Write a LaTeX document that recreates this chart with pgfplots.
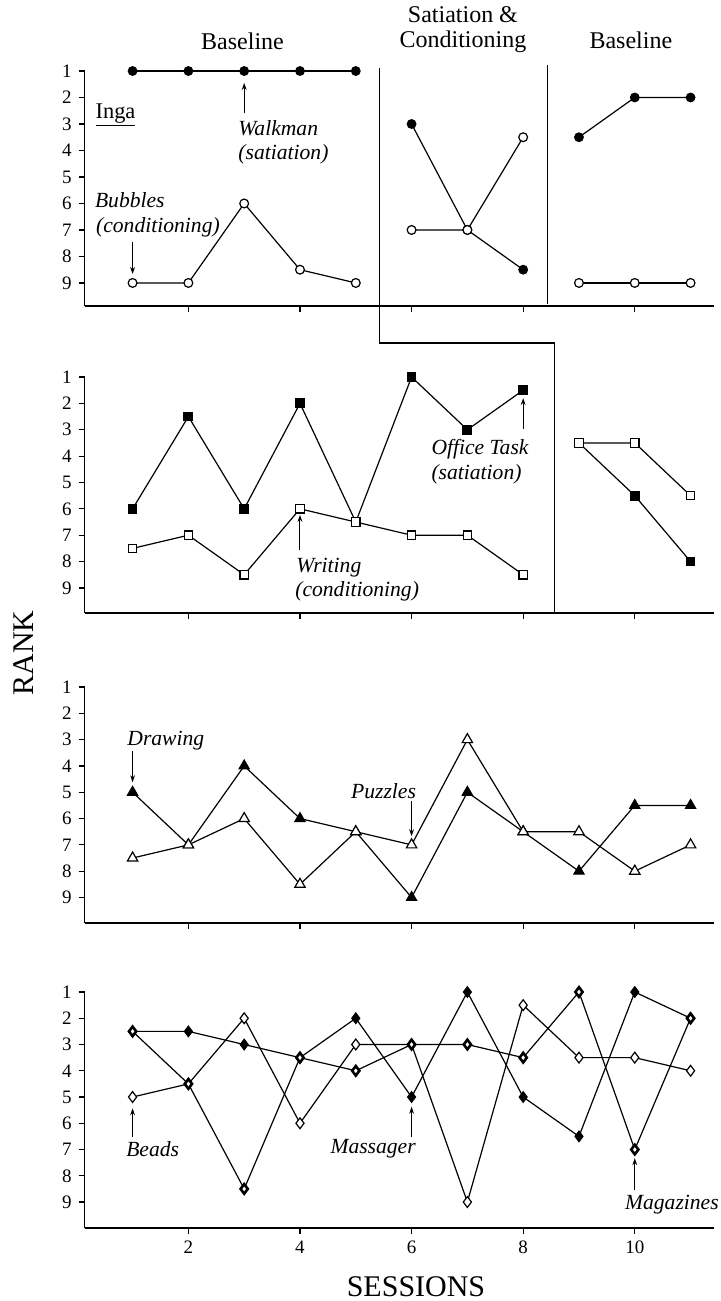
\documentclass[border=0pt]{standalone}
\usepackage{fontspec}
\setmainfont{Liberation Serif}
\usepackage{pgfplots}
\pgfplotsset{compat=1.18}
\usetikzlibrary{arrows.meta}
\tikzset{
  ln/.style={black, line width=0.6pt},
  arr/.style={-{Stealth[length=3.5pt,width=2.4pt]}, line width=0.5pt},
  ann/.style={inner sep=0pt, anchor=base west, font=\fontsize{10.8}{13}\selectfont\itshape},
  ttl/.style={inner sep=0pt, font=\fontsize{12}{14}\selectfont},
}
\pgfplotsset{
  panel/.style={
    scale only axis, width=314.7pt, height=118pt,
    xmin=0.14, xmax=11.42, ymin=1,
    y dir=reverse,
    axis x line=bottom, axis y line=left,
    axis line style={-, line width=0.8pt},
    xtick={2,4,6,8,10}, ytick={1,2,3,4,5,6,7,8,9},
    tick align=outside, major tick length=3pt,
    tick style={line width=0.6pt, black},
    ticklabel style={font=\fontsize{9.5}{10}\selectfont},
    /pgf/number format/assume math mode=true,
    clip=false, anchor=north west,
  },
  fc/.style={ln, mark=*, mark size=2.2pt, mark options={solid, fill=black, line width=0.5pt}},
  oc/.style={ln, mark=*, mark size=2.2pt, mark options={solid, fill=white, line width=0.6pt}},
  fs/.style={ln, mark=square*, mark size=2.2pt, mark options={solid, fill=black, line width=0.5pt}},
  os/.style={ln, mark=square*, mark size=2.1pt, mark options={solid, fill=white, line width=0.6pt}},
  ft/.style={ln, mark=triangle*, mark size=3pt, mark options={solid, fill=black, line width=0.5pt}},
  ot/.style={ln, mark=triangle*, mark size=3pt, mark options={solid, fill=white, line width=0.6pt}},
  fd/.style={ln, mark=diamond*, mark size=2.7pt, mark options={solid, fill=black, line width=0.5pt}},
  od/.style={ln, mark=diamond*, mark size=2.7pt, mark options={solid, fill=white, line width=0.6pt}},
  bd/.style={ln, mark=diamond*, mark size=2.4pt, mark options={solid, fill=white, line width=1.3pt}},
}
\begin{document}
\begin{tikzpicture}
\path[use as bounding box] (0,0) rectangle (360.5pt,-650.5pt);

% ---------- Panel 1 : circles ----------
\begin{axis}[panel, at={(42.3pt,-35.5pt)}, height=117.5pt, ymax=9.87, xticklabels={}]
\addplot[fc] coordinates {(1,1)(2,1)(3,1)(4,1)(5,1)};
\addplot[oc] coordinates {(1,9)(2,9)(3,6)(4,8.5)(5,9)};
\addplot[fc] coordinates {(6,3)(7,7)(8,8.5)};
\addplot[oc] coordinates {(6,7)(7,7)(8,3.5)};
\addplot[fc] coordinates {(9,3.5)(10,2)(11,2)};
\addplot[oc] coordinates {(9,9)(10,9)(11,9)};
\draw[ln] (axis cs:5.42,0.89) -- (axis cs:5.42,11.27);
\draw[ln] (axis cs:8.44,0.77) -- (axis cs:8.44,9.79);
\node[ttl] at (axis cs:2.97,-0.11) {Baseline};
\node[ttl] at (axis cs:6.92,-1.12) {Satiation \&};
\node[ttl] at (axis cs:6.92,-0.09) {Conditioning};
\node[ttl] at (axis cs:9.93,-0.17) {Baseline};
\node[inner sep=0pt, anchor=base west, font=\fontsize{11.2}{13}\selectfont] at (axis cs:0.33,2.78) {\underline{Inga}};
\node[ann] at (axis cs:2.89,3.42) {Walkman};
\node[ann] at (axis cs:2.89,4.33) {(satiation)};
\draw[arr] (axis cs:3,2.6) -- (axis cs:3,1.45);
\node[ann] at (axis cs:0.32,6.14) {Bubbles};
\node[ann] at (axis cs:0.34,7.09) {(conditioning)};
\draw[arr] (axis cs:1,7.47) -- (axis cs:1,8.66);
\end{axis}

% ---------- Panel 2 : squares ----------
\begin{axis}[panel, at={(42.3pt,-188.5pt)}, ymax=9.95, xticklabels={}]
\addplot[fs] coordinates {(1,6)(2,2.5)(3,6)(4,2)(5,6.5)(6,1)(7,3)(8,1.5)};
\addplot[os] coordinates {(1,7.5)(2,7)(3,8.5)(4,6)(5,6.5)(6,7)(7,7)(8,8.5)};
\addplot[fs] coordinates {(9,3.5)(10,5.5)(11,8)};
\addplot[os] coordinates {(9,3.5)(10,3.5)(11,5.5)};
\draw[ln] (axis cs:5.42,-0.29) -- (axis cs:8.56,-0.29) -- (axis cs:8.56,9.95);
\node[ann] at (axis cs:6.35,3.95) {Office Task};
\node[ann] at (axis cs:6.35,4.9) {(satiation)};
\draw[arr] (axis cs:8,2.97) -- (axis cs:8,1.8);
\node[ann] at (axis cs:3.93,8.41) {Writing};
\node[ann] at (axis cs:3.91,9.32) {(conditioning)};
\draw[arr] (axis cs:4,7.55) -- (axis cs:4,6.23);
\end{axis}

% ---------- Panel 3 : triangles ----------
\begin{axis}[panel, at={(42.3pt,-343.5pt)}, ymax=9.97, xticklabels={}]
\addplot[ft] coordinates {(1,5)(2,7)(3,4)(4,6)(5,6.5)(6,9)(7,5)(8,6.5)(9,8)(10,5.5)(11,5.5)};
\addplot[ot] coordinates {(1,7.5)(2,7)(3,6)(4,8.5)(5,6.5)(6,7)(7,3)(8,6.5)(9,6.5)(10,8)(11,7)};
\node[ann] at (axis cs:0.9,3.23) {Drawing};
\draw[arr] (axis cs:1,3.45) -- (axis cs:1,4.62);
\node[ann] at (axis cs:4.91,5.24) {Puzzles};
\draw[arr] (axis cs:6,5.34) -- (axis cs:6,6.67);
\end{axis}

% ---------- Panel 4 : diamonds ----------
\begin{axis}[panel, at={(42.3pt,-496pt)}, ymax=9.99]
\addplot[fd] coordinates {(1,2.5)(2,2.5)(3,3)(4,3.5)(5,2)(6,5)(7,1)(8,5)(9,6.5)(10,1)(11,2)};
\addplot[od] coordinates {(1,5)(2,4.5)(3,2)(4,6)(5,3)(6,3)(7,9)(8,1.5)(9,3.5)(10,3.5)(11,4)};
\addplot[bd] coordinates {(1,2.5)(2,4.5)(3,8.5)(4,3.5)(5,4)(6,3)(7,3)(8,3.5)(9,1)(10,7)(11,2)};
\node[ann] at (axis cs:0.88,7.25) {Beads};
\draw[arr] (axis cs:1,6.51) -- (axis cs:1,5.43);
\node[ann] at (axis cs:4.54,7.17) {Massager};
\draw[arr] (axis cs:6,6.51) -- (axis cs:6,5.37);
\node[ann] at (axis cs:9.82,9.3) {Magazines};
\draw[arr] (axis cs:10,8.54) -- (axis cs:10,7.33);
\end{axis}

\node[rotate=90, inner sep=0pt, font=\fontsize{15}{17}\selectfont] at (11.75pt,-326.5pt) {RANK};
\node[inner sep=0pt, font=\fontsize{15}{17}\selectfont] at (208pt,-643.5pt) {SESSIONS};
\end{tikzpicture}
\end{document}
